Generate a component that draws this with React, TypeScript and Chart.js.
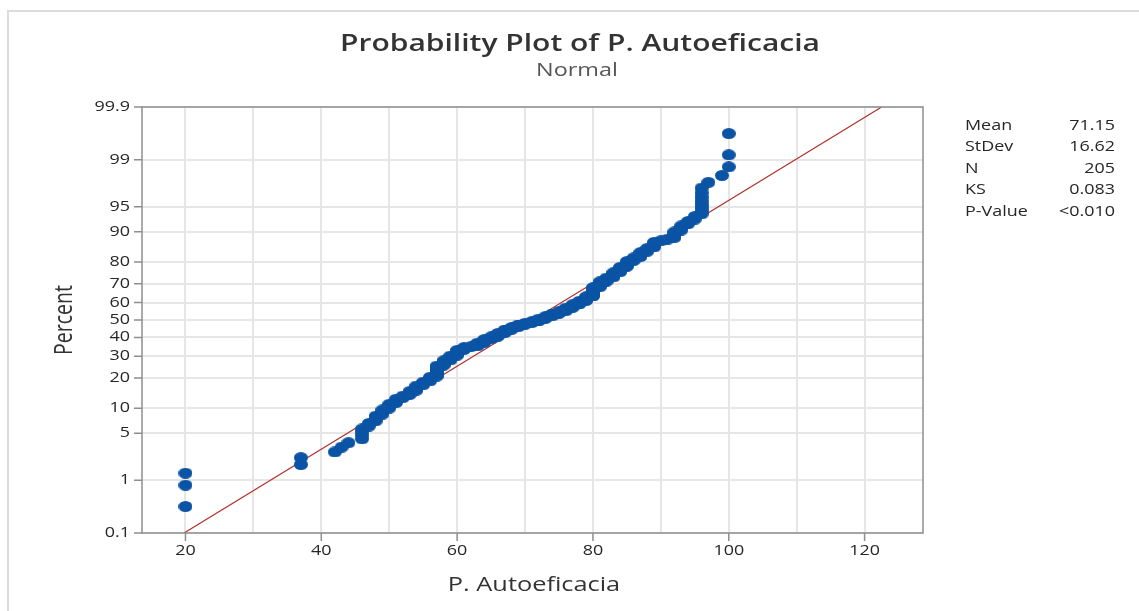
import React, { useEffect, useRef } from "react";
import { Chart, registerables } from "chart.js";

Chart.register(...registerables);

// ---- data ----
const TITLE = "Probability Plot of P. Autoeficacia";
const SUBTITLE = "Normal";
const X_TITLE = "P. Autoeficacia";
const Y_TITLE = "Percent";

// distinct observed scores and how many observations share each score (sorted)
const SCORE_VALUES = [
  20, 37, 42, 43, 44, 46,
  47, 48, 49, 50, 51, 52, 53, 54, 55, 56,
  57, 58, 59, 60, 61, 62, 63, 64, 65, 66,
  67, 68, 69, 70, 71, 72, 73, 74, 75, 76,
  77, 78, 79, 80, 81, 82, 83, 84, 85, 86,
  87, 88, 89, 90, 91, 92, 93, 94, 95,
  96, 97, 99, 100,
];
const SCORE_COUNTS = [
  3, 2, 1, 1, 1, 4,
  2, 3, 3, 3, 3, 2, 3, 4, 3, 4,
  10, 5, 5, 6, 3, 1, 4, 4, 3, 4,
  4, 3, 3, 2, 2, 3, 3, 3, 3, 4,
  4, 4, 5, 10, 6, 4, 5, 5, 5, 3,
  4, 3, 4, 1, 1, 4, 3, 2, 2,
  8, 1, 1, 3,
];

const PERCENT_TICKS = [0.1, 1, 5, 10, 20, 30, 40, 50, 60, 70, 80, 90, 95, 99, 99.9];
const PERCENT_LABELS = ["0.1", "1", "5", "10", "20", "30", "40", "50", "60", "70", "80", "90", "95", "99", "99.9"];
const X_GRID = [20, 30, 40, 50, 60, 70, 80, 90, 100, 110, 120];
const X_LABELED = [20, 40, 60, 80, 100, 120];

const STAT_LABELS = ["Mean", "StDev", "N", "KS", "P-Value"];
const STAT_VALUES = ["71.15", "16.62", "205", "0.083", "<0.010"];
const MEAN = 71.15;
const STDEV = 16.62;

// ---- inverse normal CDF (probability axis) ----
function probit(p: number): number {
  const a = [-3.969683028665376e1, 2.209460984245205e2, -2.759285104469687e2, 1.38357751867269e2, -3.066479806614716e1, 2.506628277459239];
  const b = [-5.447609879822406e1, 1.615858368580409e2, -1.556989798598866e2, 6.680131188771972e1, -1.328068155288572e1];
  const c = [-7.784894002430293e-3, -3.223964580411365e-1, -2.400758277161838, -2.549732539343734, 4.374664141464968, 2.938163982698783];
  const d = [7.784695709041462e-3, 3.224671290700398e-1, 2.445134137142996, 3.754408661907416];
  const pl = 0.02425;
  if (p < pl) {
    const q = Math.sqrt(-2 * Math.log(p));
    return (((((c[0] * q + c[1]) * q + c[2]) * q + c[3]) * q + c[4]) * q + c[5]) / ((((d[0] * q + d[1]) * q + d[2]) * q + d[3]) * q + 1);
  }
  if (p <= 1 - pl) {
    const q = p - 0.5;
    const r = q * q;
    return ((((((a[0] * r + a[1]) * r + a[2]) * r + a[3]) * r + a[4]) * r + a[5]) * q) / (((((b[0] * r + b[1]) * r + b[2]) * r + b[3]) * r + b[4]) * r + 1);
  }
  const q = Math.sqrt(-2 * Math.log(1 - p));
  return -(((((c[0] * q + c[1]) * q + c[2]) * q + c[3]) * q + c[4]) * q + c[5]) / ((((d[0] * q + d[1]) * q + d[2]) * q + d[3]) * q + 1);
}

const BLUE = "#0b54a5";
const TEXT = "#262626";
const SX = 1.28;
const FONT = '"Open Sans", "Noto Sans", sans-serif';

function sText(ctx: CanvasRenderingContext2D, text: string, x: number, y: number, size: number, align: CanvasTextAlign, weight = "400", color = TEXT, sx = SX) {
  ctx.save();
  ctx.font = `${weight} ${size}px ${FONT}`;
  ctx.fillStyle = color;
  ctx.textAlign = align;
  ctx.textBaseline = "middle";
  ctx.translate(x, y);
  ctx.scale(sx, 1);
  ctx.fillText(text, 0, 0);
  ctx.restore();
}

export default function App() {
  const ref = useRef<HTMLCanvasElement | null>(null);

  useEffect(() => {
    document.body.style.margin = "0";
    const canvas = ref.current!;

    // expand to sorted observations and Minitab median-rank plotting positions
    const obs: number[] = [];
    SCORE_VALUES.forEach((v, k) => {
      for (let j = 0; j < SCORE_COUNTS[k]; j++) obs.push(v);
    });
    const n = obs.length;
    const points = obs.map((v, i) => ({ x: v, y: probit((i + 1 - 0.3) / (n + 0.4)) }));

    const zMin = probit(PERCENT_TICKS[0] / 100);
    const zMax = probit(PERCENT_TICKS[PERCENT_TICKS.length - 1] / 100);
    const fitLine = [
      { x: MEAN + STDEV * zMin, y: zMin },
      { x: MEAN + STDEV * zMax, y: zMax },
    ];

    const marker = document.createElement("canvas");
    marker.width = 14;
    marker.height = 11;
    const mctx = marker.getContext("2d")!;
    mctx.fillStyle = BLUE;
    mctx.beginPath();
    mctx.ellipse(7, 5.5, 7, 5.5, 0, 0, Math.PI * 2);
    mctx.fill();

    const decor = {
      id: "decor",
      beforeDraw(chart: any) {
        const ctx = chart.ctx as CanvasRenderingContext2D;
        ctx.save();
        ctx.fillStyle = "#ffffff";
        ctx.fillRect(0, 0, chart.width, chart.height);
        ctx.strokeStyle = "#dcdcdc";
        ctx.lineWidth = 2;
        ctx.beginPath();
        ctx.moveTo(8, chart.height);
        ctx.lineTo(8, 11);
        ctx.lineTo(chart.width, 11);
        ctx.stroke();
        ctx.restore();
      },
      afterDraw(chart: any) {
        const ctx = chart.ctx as CanvasRenderingContext2D;
        const { left, right, top, bottom } = chart.chartArea;
        const xs = chart.scales.x;
        const ys = chart.scales.y;
        ctx.save();
        ctx.strokeStyle = "#8e8e8e";
        ctx.lineWidth = 1.5;
        ctx.strokeRect(left, top, right - left, bottom - top);
        ctx.beginPath();
        PERCENT_TICKS.forEach((p) => {
          const y = ys.getPixelForValue(probit(p / 100));
          ctx.moveTo(left - 8, y);
          ctx.lineTo(left, y);
        });
        X_LABELED.forEach((v) => {
          const x = xs.getPixelForValue(v);
          ctx.moveTo(x, bottom);
          ctx.lineTo(x, bottom + 8);
        });
        ctx.stroke();
        ctx.restore();

        PERCENT_TICKS.forEach((p, k) => {
          const y = ys.getPixelForValue(probit(p / 100));
          sText(ctx, PERCENT_LABELS[k], left - 12, y, 14, "right");
        });
        X_LABELED.forEach((v) => {
          sText(ctx, String(v), xs.getPixelForValue(v), bottom + 18, 14, "center");
        });

        sText(ctx, TITLE, 580, 44, 24, "center", "600", "#333333", 1.25);
        sText(ctx, SUBTITLE, 577, 71, 18, "center", "400", "#555555", 1.3);
        sText(ctx, X_TITLE, 534, 585, 19.5, "center", "400", "#333333", 1.3);

        ctx.save();
        ctx.font = `400 19.5px ${FONT}`;
        ctx.fillStyle = "#333333";
        ctx.textAlign = "center";
        ctx.textBaseline = "middle";
        ctx.translate(65, (top + bottom) / 2);
        ctx.scale(1.3, 1);
        ctx.rotate(-Math.PI / 2);
        ctx.fillText(Y_TITLE, 0, 0);
        ctx.restore();

        STAT_LABELS.forEach((lab, k) => {
          const y = 126 + k * 21.5;
          sText(ctx, lab, 965, y, 14, "left");
          sText(ctx, STAT_VALUES[k], 1115, y, 14, "right");
        });
      },
    };

    const chart = new Chart(canvas, {
      type: "scatter",
      data: {
        datasets: [
          {
            type: "line",
            data: fitLine,
            borderColor: "#b0302a",
            borderWidth: 1.2,
            pointRadius: 0,
            fill: false,
            order: 2,
          } as any,
          {
            type: "scatter",
            data: points,
            pointStyle: marker as any,
            pointRadius: 5,
            backgroundColor: BLUE,
            borderColor: BLUE,
            order: 1,
          },
        ],
      },
      options: {
        animation: false,
        responsive: false,
        devicePixelRatio: 1,
        events: [],
        layout: { padding: { top: 107, right: 216, bottom: 0, left: 0 } },
        plugins: { legend: { display: false }, tooltip: { enabled: false }, title: { display: false } },
        scales: {
          x: {
            type: "linear",
            min: 13.6,
            max: 128.6,
            afterBuildTicks: (s: any) => {
              s.ticks = X_GRID.map((v) => ({ value: v }));
            },
            afterFit: (s: any) => {
              s.height = 78;
            },
            ticks: { display: false },
            grid: { color: "#e6e6e6", lineWidth: 2, drawTicks: false },
            border: { display: false },
          },
          y: {
            type: "linear",
            min: zMin,
            max: zMax,
            afterBuildTicks: (s: any) => {
              s.ticks = PERCENT_TICKS.map((p) => ({ value: probit(p / 100) }));
            },
            afterFit: (s: any) => {
              s.width = 142;
            },
            ticks: { display: false },
            grid: { color: "#e6e6e6", lineWidth: 2, drawTicks: false },
            border: { display: false },
          },
        },
      },
      plugins: [decor],
    });

    return () => chart.destroy();
  }, []);

  return <canvas ref={ref} width={1139} height={611} style={{ display: "block" }} />;
}
